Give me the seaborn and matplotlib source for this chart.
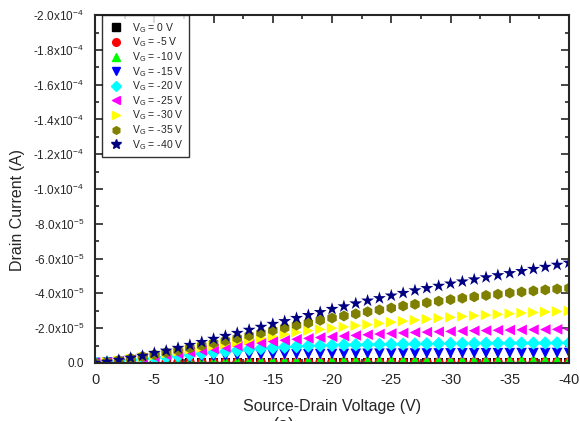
import numpy as np
import pandas as pd
import matplotlib
matplotlib.use("Agg")
import matplotlib.pyplot as plt
import seaborn as sns
from matplotlib.ticker import MultipleLocator, FuncFormatter

# source-drain voltage, 0 to -40 V in 1 V steps
vsd = [0, -1, -2, -3, -4, -5, -6, -7, -8, -9, -10, -11, -12, -13, -14, -15, -16, -17, -18, -19, -20,
       -21, -22, -23, -24, -25, -26, -27, -28, -29, -30, -31, -32, -33, -34, -35, -36, -37, -38, -39, -40]

gate_labels = ["0", "-5", "-10", "-15", "-20", "-25", "-30", "-35", "-40"]

# drain current, units of -1e-5 A
id_0 = [0, 0.002, 0.003, 0.004, 0.005, 0.005, 0.006, 0.006, 0.006, 0.007, 0.007, 0.007, 0.007, 0.008, 0.008, 0.008, 0.008, 0.008, 0.008, 0.009, 0.009,
        0.009, 0.009, 0.009, 0.009, 0.009, 0.01, 0.01, 0.01, 0.01, 0.01, 0.01, 0.01, 0.01, 0.01, 0.01, 0.01, 0.01, 0.01, 0.01, 0.01]
id_5 = [0, 0.006, 0.012, 0.017, 0.021, 0.024, 0.026, 0.028, 0.029, 0.03, 0.031, 0.032, 0.033, 0.033, 0.034, 0.034, 0.035, 0.035, 0.035, 0.036, 0.036,
        0.036, 0.037, 0.037, 0.037, 0.038, 0.038, 0.038, 0.039, 0.039, 0.039, 0.04, 0.04, 0.04, 0.041, 0.041, 0.041, 0.042, 0.042, 0.042, 0.043]
id_10 = [0, 0.01, 0.022, 0.035, 0.048, 0.06, 0.072, 0.083, 0.093, 0.102, 0.11, 0.117, 0.122, 0.126, 0.129, 0.132, 0.134, 0.136, 0.138, 0.139, 0.141,
         0.142, 0.143, 0.145, 0.146, 0.147, 0.148, 0.149, 0.15, 0.151, 0.152, 0.153, 0.154, 0.155, 0.156, 0.157, 0.158, 0.159, 0.16, 0.161, 0.162]
id_15 = [0, 0.02, 0.05, 0.09, 0.13, 0.17, 0.21, 0.25, 0.29, 0.33, 0.36, 0.39, 0.42, 0.44, 0.46, 0.475, 0.485, 0.495, 0.5, 0.505, 0.51,
         0.515, 0.52, 0.525, 0.53, 0.533, 0.536, 0.539, 0.542, 0.545, 0.548, 0.551, 0.554, 0.556, 0.558, 0.56, 0.562, 0.564, 0.566, 0.568, 0.57]
id_20 = [0, 0.03, 0.08, 0.14, 0.2, 0.26, 0.33, 0.4, 0.47, 0.54, 0.6, 0.66, 0.72, 0.78, 0.83, 0.87, 0.91, 0.94, 0.97, 0.99, 1.01,
         1.03, 1.04, 1.05, 1.06, 1.07, 1.08, 1.09, 1.1, 1.105, 1.11, 1.115, 1.12, 1.125, 1.13, 1.135, 1.14, 1.142, 1.145, 1.148, 1.15]
id_25 = [0, 0.04, 0.11, 0.19, 0.27, 0.35, 0.44, 0.53, 0.62, 0.71, 0.8, 0.89, 0.98, 1.07, 1.15, 1.23, 1.3, 1.36, 1.41, 1.46, 1.5,
         1.54, 1.58, 1.62, 1.66, 1.69, 1.72, 1.75, 1.77, 1.79, 1.81, 1.83, 1.85, 1.86, 1.88, 1.89, 1.9, 1.91, 1.92, 1.93, 1.94]
id_30 = [0, 0.05, 0.13, 0.23, 0.33, 0.43, 0.54, 0.65, 0.76, 0.87, 0.98, 1.09, 1.2, 1.31, 1.42, 1.53, 1.65, 1.76, 1.85, 1.93, 2.0,
         2.07, 2.14, 2.2, 2.27, 2.34, 2.4, 2.46, 2.52, 2.57, 2.62, 2.67, 2.71, 2.75, 2.79, 2.83, 2.87, 2.9, 2.93, 2.96, 2.99]
id_35 = [0, 0.05, 0.15, 0.26, 0.37, 0.48, 0.6, 0.72, 0.86, 1.0, 1.14, 1.28, 1.42, 1.57, 1.72, 1.87, 2.02, 2.17, 2.3, 2.45, 2.58,
         2.7, 2.82, 2.94, 3.05, 3.16, 3.27, 3.37, 3.46, 3.55, 3.64, 3.72, 3.8, 3.88, 3.95, 4.02, 4.08, 4.14, 4.2, 4.25, 4.3]
id_40 = [0, 0.06, 0.17, 0.29, 0.4, 0.57, 0.7, 0.86, 1.03, 1.2, 1.38, 1.55, 1.72, 1.9, 2.07, 2.24, 2.4, 2.58, 2.75, 2.92, 3.1,
         3.25, 3.42, 3.58, 3.72, 3.87, 4.02, 4.17, 4.3, 4.43, 4.56, 4.68, 4.8, 4.92, 5.04, 5.16, 5.28, 5.4, 5.52, 5.64, 5.76]

currents = [id_0, id_5, id_10, id_15, id_20, id_25, id_30, id_35, id_40]
colors = ["#000000", "#FF0000", "#00FF00", "#0000FF", "#00FFFF", "#FF00FF", "#FFFF00", "#808000", "#000080"]
marks = ["s", "o", "^", "v", "D", "<", ">", "h", "*"]
msizes = [42, 50, 58, 58, 48, 58, 58, 62, 95]

rows = []
for g, cur in zip(gate_labels, currents):
    for v, i in zip(vsd, cur):
        rows.append({"vsd": v, "id": -i * 1e-5, "vg": "V$_G$ = " + g + " V"})
df = pd.DataFrame(rows)
names = ["V$_G$ = " + g + " V" for g in gate_labels]

sns.set_style("ticks")
plt.rcParams["font.family"] = ["Liberation Sans", "DejaVu Sans"]
plt.rcParams["mathtext.fontset"] = "custom"
plt.rcParams["mathtext.rm"] = "Liberation Sans"
plt.rcParams["mathtext.it"] = "Liberation Sans"

fig = plt.figure(figsize=(5.8, 4.21), dpi=100)
ax = fig.add_axes([0.164, 0.138, 0.817, 0.826])

sns.scatterplot(data=df, x="vsd", y="id", hue="vg", style="vg", size="vg",
                hue_order=names, style_order=names, size_order=names,
                palette=dict(zip(names, colors)), markers=dict(zip(names, marks)),
                sizes=dict(zip(names, msizes)), linewidth=0, ax=ax, legend=False)

ax.set_xlim(0, -40)
ax.set_ylim(0, -2.0e-4)
ax.xaxis.set_major_locator(MultipleLocator(5))
ax.xaxis.set_minor_locator(MultipleLocator(2.5))
ax.yaxis.set_major_locator(MultipleLocator(2e-5))
ax.yaxis.set_minor_locator(MultipleLocator(1e-5))


def yfmt(val, pos):
    if abs(val) < 1e-12:
        return "0.0"
    exp = int(np.floor(np.log10(abs(val))))
    man = val / 10 ** exp
    return "%.1fx10$^{%d}$" % (man, exp)


ax.yaxis.set_major_formatter(FuncFormatter(yfmt))
ax.xaxis.set_major_formatter(FuncFormatter(lambda v, p: "%d" % v))
ax.tick_params(which="both", direction="in", top=True, right=True, width=1.2)
ax.tick_params(which="major", length=6)
ax.tick_params(which="minor", length=3)
ax.tick_params(axis="y", labelsize=8.5, pad=8)
ax.tick_params(axis="x", labelsize=10.5, pad=7)
for sp in ax.spines.values():
    sp.set_linewidth(1.5)
    sp.set_visible(True)

ax.set_xlabel("Source-Drain Voltage (V)", fontsize=11.5, labelpad=9)
ax.set_ylabel("Drain Current (A)", fontsize=11.5)
ax.yaxis.set_label_coords(-0.148, 0.44)

handles = [plt.Line2D([], [], linestyle="none", marker=m, color=c, markersize=7 if m == "*" else 5.5)
           for m, c in zip(marks, colors)]
leg = ax.legend(handles, names, loc="upper left", bbox_to_anchor=(0.015, 1.0), borderaxespad=0,
                fontsize=7.5, frameon=True, fancybox=False, edgecolor="black",
                handletextpad=0.8, labelspacing=0.08, borderpad=0.55, handlelength=1.5)
leg.get_frame().set_linewidth(1.0)

fig.text(0.49, -0.011, "(a)", ha="center", va="center", fontsize=13)

fig.savefig("out.png", dpi=100)
